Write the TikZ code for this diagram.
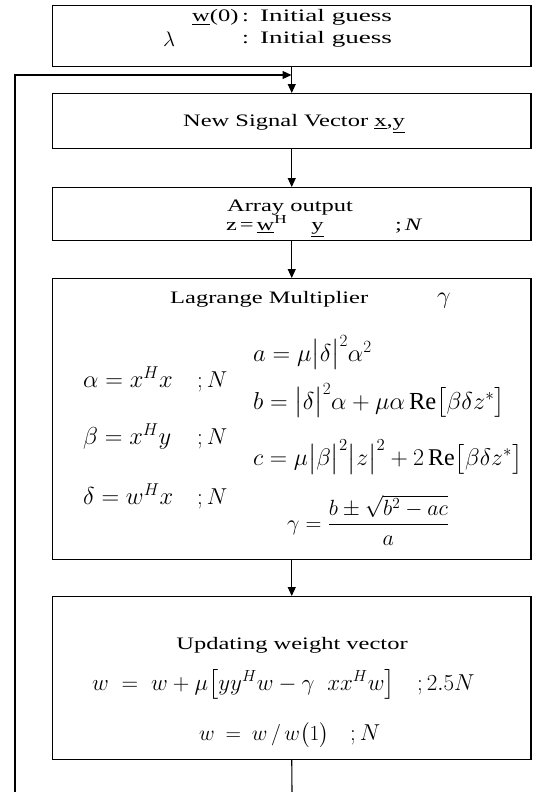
\RequirePackage{fix-cm}
\documentclass[tikz,border=0pt]{standalone}
\usepackage{amsmath}
\usepackage{fontspec}
\setmainfont{Liberation Serif}
\newfontfamily\wideserif[FakeStretch=1.4]{Liberation Serif}
\newfontfamily\widerserif[FakeStretch=1.55]{Liberation Serif}
\usetikzlibrary{arrows.meta}
\tikzset{
  box/.style={draw, line width=1.1pt, minimum width=478.5pt, inner sep=0pt, anchor=north},
  txt/.style={inner sep=0pt, anchor=base, font=\wideserif\fontsize{17.5}{20}\selectfont},
  txtw/.style={txt, anchor=base west},
  eq/.style={inner sep=0pt, anchor=base west, font=\fontsize{24.5}{29}\selectfont},
  flow/.style={line width=1.1pt, -{Triangle[length=9pt,width=8pt]}},
  wire/.style={line width=1.1pt}
}
\begin{document}
\begin{tikzpicture}[x=1pt,y=-1pt]
\useasboundingbox (0,0) rectangle (533,792);
% boxes
\node[box, minimum height=61pt] (init) at (291.75,5) {};
\node[box, minimum height=55pt] (sig) at (291.75,93) {};
\node[box, minimum height=53pt] (arr) at (291.75,187) {};
\node[box, minimum height=281pt] (lag) at (291.75,278) {};
\node[box, minimum height=163pt] (upd) at (291.75,596) {};
% initial box
\node[eq, font=\fontsize{21}{25}\selectfont] (lam) at (163,47) {$\lambda$};
\node[txtw] (w0) at (192,22) {\underline{w}(0)};
\node[txtw] (c1) at (242,22) {:};
\node[txtw, font=\widerserif\fontsize{17.5}{20}\selectfont] (g1) at (260,22) {Initial guess};
\node[txtw] (c2) at (242,44) {:};
\node[txtw, font=\widerserif\fontsize{17.5}{20}\selectfont] (g2) at (260,44) {Initial guess};
% signal box
\node[txt] (sigt) at (294,126) {New Signal Vector \underline{x},\underline{y}};
% array box
\node[txt] (arrt) at (290,211) {Array output};
\node[txtw] (arrz) at (226,230) {z\,=\,\underline{w}\textsuperscript{H}\hspace{24pt}\underline{y}};
\node[txtw] (arrn) at (395,230) {;\,\textit{N}};
% lagrange box
\node[txtw] (lagt) at (170,303) {Lagrange Multiplier};
\node[eq, font=\fontsize{24}{28}\selectfont] (gam) at (437,303) {$\gamma$};
\node[eq] (ea) at (83,387) {$\alpha = x^{H}x$};
\node[eq, font=\fontsize{23}{27}\selectfont] (na) at (197,387) {$;N$};
\node[eq] (eb) at (83,444) {$\beta = x^{H}y$};
\node[eq, font=\fontsize{23}{27}\selectfont] (nb) at (197,444) {$;N$};
\node[eq] (ed) at (83,504) {$\delta = w^{H}x$};
\node[eq, font=\fontsize{23}{27}\selectfont] (nd) at (197,504) {$;N$};
\node[eq] (qa) at (253,361) {$a = \mu\bigl|\delta\bigr|^2\alpha^2$};
\node[eq] (qb) at (253,409) {$b = \bigl|\delta\bigr|^2\alpha + \mu\alpha\,\mathrm{Re}\bigl[\beta\delta z^*\bigr]$};
\node[eq, font=\fontsize{24}{28}\selectfont] (qc) at (253,465) {$c = \mu\bigl|\beta\bigr|^2\bigl|z\bigr|^2 + 2\,\mathrm{Re}\bigl[\beta\delta z^*\bigr]$};
\node[eq, font=\fontsize{22}{26}\selectfont] (qg) at (287,530) {$\gamma = \dfrac{b\pm\sqrt{b^2-ac}}{a}$};
% update box
\node[txt] (updt) at (292,649) {Updating weight vector};
\node[eq, font=\fontsize{23}{27}\selectfont] (qw) at (92,690) {$w \;=\; w + \mu\bigl[yy^{H}w - \gamma\;\; xx^{H}w\bigr]$};
\node[eq, font=\fontsize{23}{27}\selectfont] (qwn) at (417,690) {$;2.5N$};
\node[eq, font=\fontsize{21.5}{25}\selectfont] (qn) at (199,740) {$w \:=\: w \,/\, w\bigl(1\bigr)$};
\node[eq, font=\fontsize{23}{27}\selectfont] (qnn) at (350,740) {$;N$};
% connectors
\coordinate (bot) at (292,792);
\coordinate (botl) at (15,792);
\coordinate (corner) at (15,75);
\coordinate (join) at (292,75);
\draw[flow] (init.south) -- (sig.north);
\draw[flow] (sig.south) -- (arr.north);
\draw[flow] (arr.south) -- (lag.north);
\draw[flow] (lag.south) -- (upd.north);
\draw[wire] (upd.south) -- (bot);
\draw[flow, shorten >=0.5pt] (botl) -- (corner) -- (join);
\end{tikzpicture}
\end{document}
